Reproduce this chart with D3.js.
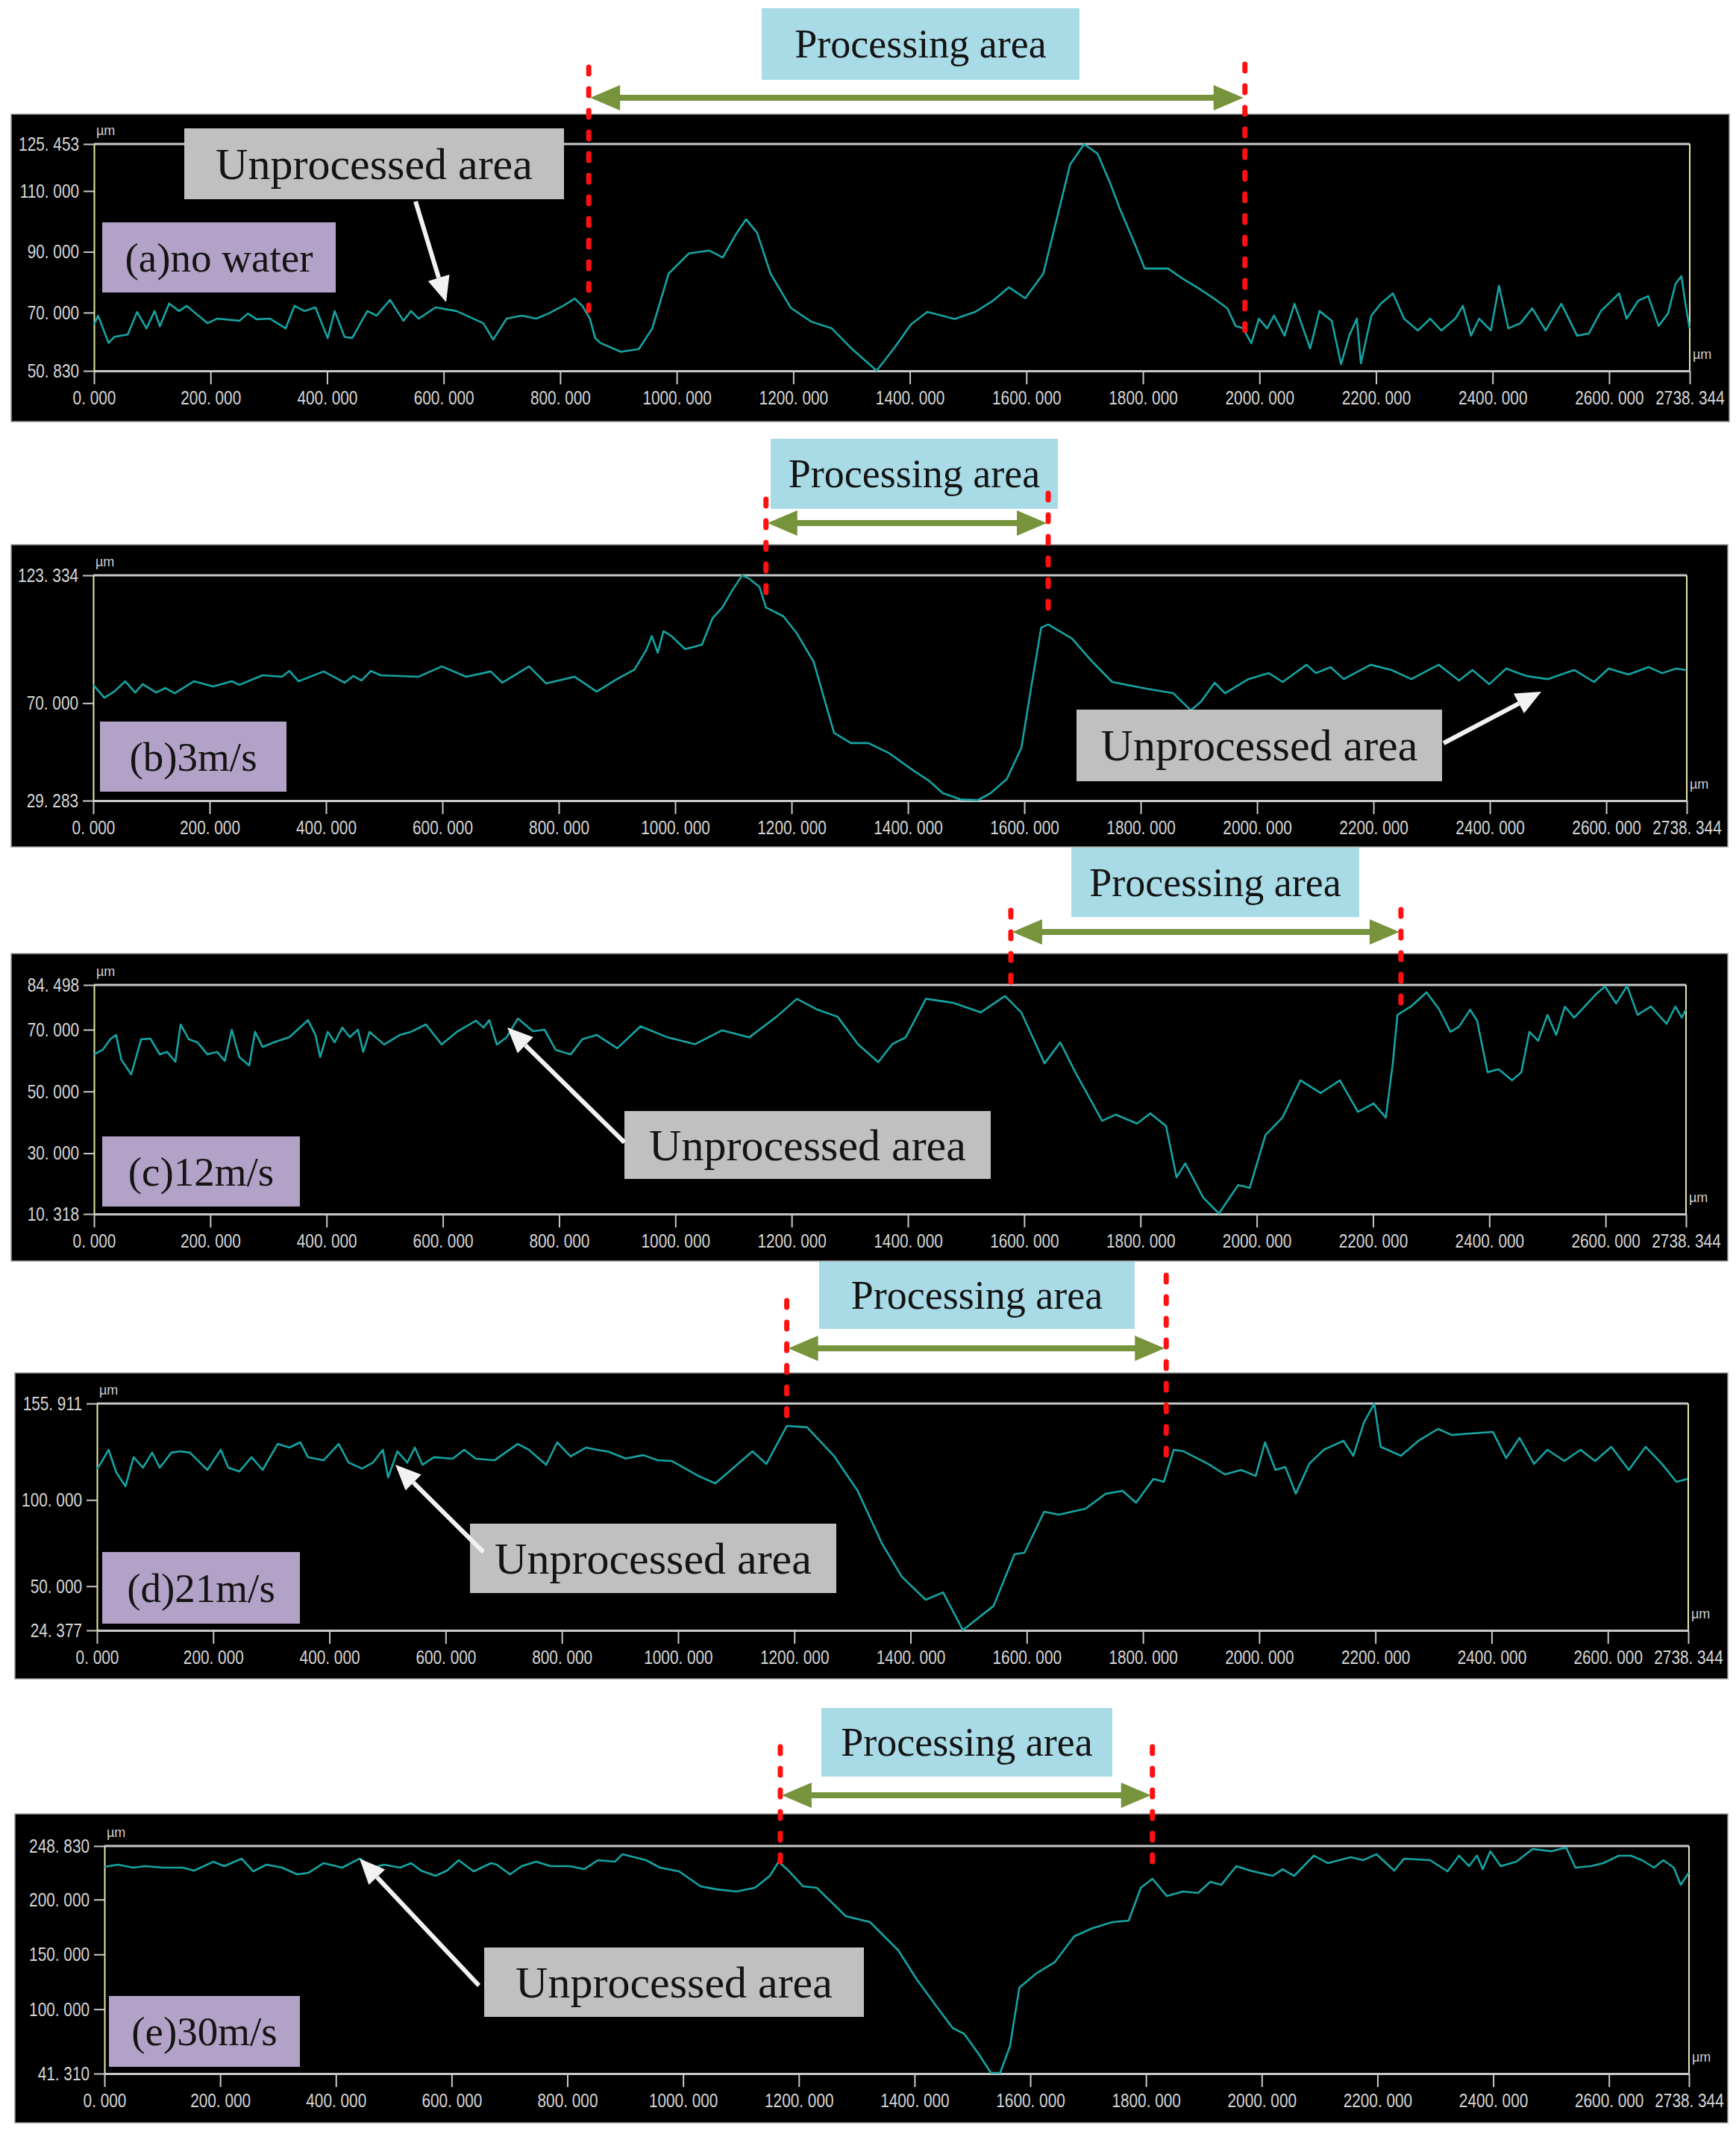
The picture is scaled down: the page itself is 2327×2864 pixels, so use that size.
<!DOCTYPE html>
<html>
<head>
<meta charset="utf-8">
<script src="https://cdn.jsdelivr.net/npm/d3@7"></script>
<style>
  body { margin: 0; background: #fff; }
  svg { display: block; }
  .tick text { font-family: "Liberation Sans", Arial, sans-serif; }
  .serif { font-family: "Liberation Serif", "Times New Roman", serif; }
</style>
</head>
<body>
<div id="container"></div>
<script>
// ---- data (distance µm, height µm) ----
const xTicks = [0, 200, 400, 600, 800, 1000, 1200, 1400, 1600, 1800, 2000, 2200, 2400, 2600, 2738.344]

const aTicks = [50.830, 70, 90, 110, 125.453]
const bTicks = [29.283, 70, 123.334]
const cTicks = [10.318, 30, 50, 70, 84.498]
const dTicks = [24.377, 50, 100, 155.911]
const eTicks = [41.310, 100, 150, 200, 248.830]

const panelLabels = ["(a)no water", "(b)3m/s", "(c)12m/s", "(d)21m/s", "(e)30m/s"]

// left / right edge of the processing area for each panel (µm)
const procBounds = [[849, 1975], [1156, 1641], [1577, 2248], [1187, 1840], [1168, 1811]]

const profileA = [[0,66],[7,69],[25,60],[35,62],[58,62.8],[74,70.2],[90,64.8],[104,70.5],[113,65.5],[129,73],[146,70.5],[159,72.2],[195,66.5],[211,68],[250,67.3],[264,69.7],[279,67.8],[302,68],[329,64.8],[344,72.2],[361,70.5],[380,71.7],[401,61.6],[413,70.5],[430,62],[443,61.6],[469,70.5],[485,69],[508,74.2],[531,67.3],[544,70.5],[557,68],[586,71.7],[622,70.5],[668,66.5],[685,61.1],[708,68],[734,69],[759,68],[780,69.7],[805,72.2],[825,74.6],[838,72.2],[851,68],[860,61.6],[869,60],[904,57.1],[935,58],[958,64.8],[986,82.8],[1021,89.5],[1056,90.4],[1079,88.1],[1103,96.2],[1119,100.7],[1138,96.2],[1161,82.8],[1196,71.5],[1231,67],[1266,64.8],[1301,58],[1343,50.9],[1372,58],[1402,66.1],[1430,70.2],[1477,67.9],[1512,70.2],[1542,73.8],[1570,78.3],[1598,74.7],[1629,82.8],[1652,100.7],[1675,118.7],[1699,125.4],[1722,122.3],[1745,112],[1759,104.8],[1786,92.6],[1803,84.5],[1843,84.5],[1867,81.3],[1897,77.8],[1922,74.6],[1945,71.4],[1959,65.6],[1972,64.8],[1986,59.9],[1999,68],[2013,64.8],[2025,69],[2043,62.4],[2060,72.9],[2087,58.2],[2103,70.5],[2124,67.3],[2140,53],[2154,62.4],[2167,68],[2174,53.3],[2192,69],[2208,72.9],[2229,76.3],[2248,68],[2272,64.1],[2293,68],[2312,64.1],[2336,68],[2349,72.2],[2363,62.4],[2377,68],[2397,64.1],[2411,78.8],[2427,64.8],[2448,66.5],[2468,71.4],[2491,64.1],[2518,72.9],[2545,62.4],[2565,63.1],[2586,70.5],[2617,76.3],[2630,68],[2650,73.9],[2667,75.4],[2685,65.6],[2701,69.7],[2714,79.5],[2724,82],[2731,72.9],[2738,64.8]]

const profileB = [[0,77.6],[19,72.2],[36,74.8],[55,79.1],[72,74.4],[85,77.9],[108,74.4],[124,76.3],[140,74.1],[173,79.1],[206,76.9],[238,79.1],[251,77.6],[291,81.6],[324,81],[337,83.4],[353,79.1],[396,83.2],[432,78.5],[447,81.3],[461,79.4],[477,83.4],[494,81.6],[559,81],[599,85.3],[641,81],[683,83.2],[703,78.5],[749,85.3],[778,78.2],[827,81],[865,74.8],[900,80],[930,84],[950,92],[960,98],[970,91],[980,100],[993,98.1],[1017,92.5],[1046,94.4],[1064,105.3],[1081,109.9],[1098,117],[1115,123.3],[1128,121.8],[1145,118.4],[1156,109.9],[1186,106.2],[1209,99.1],[1238,87.2],[1273,57.6],[1302,53.3],[1332,53.3],[1367,49.2],[1408,42.1],[1437,37.4],[1460,32.4],[1490,29.8],[1520,29.5],[1542,32.4],[1570,38.3],[1595,51.4],[1611,75.4],[1629,101.5],[1641,102.8],[1682,96.9],[1717,87.2],[1751,78.8],[1810,76],[1856,74.1],[1886,67],[1904,70.7],[1927,78.5],[1945,74.1],[1985,80],[2020,82.5],[2044,78.8],[2085,86],[2101,82.5],[2126,85],[2149,80],[2195,86],[2231,83.8],[2265,80],[2312,86],[2347,79.4],[2370,83.8],[2399,77.9],[2428,84.4],[2463,81.3],[2499,80],[2545,83.8],[2579,78.8],[2604,84.4],[2638,81.9],[2673,85],[2696,82.5],[2720,84.4],[2738,83.8]]

const profileC = [[0,62],[15,63.5],[28,66.9],[38,68.3],[47,60.3],[64,55.5],[81,66.9],[97,67.1],[113,62],[126,62.8],[140,59.6],[149,71.7],[163,66.9],[178,65.9],[195,62],[212,62.8],[225,59.9],[237,70],[250,61.1],[267,58.4],[277,69.3],[290,64.4],[309,65.9],[336,67.6],[368,73.1],[381,68.3],[389,61.1],[402,69.3],[414,65.9],[427,70.7],[440,67.6],[454,70],[463,62.8],[474,69.3],[499,65.2],[526,68.3],[545,69.3],[571,71.7],[598,65.2],[624,69.3],[657,72.9],[670,70.7],[680,73.1],[693,65.2],[710,67.6],[729,73.6],[755,69.5],[775,70],[794,63.5],[820,62],[840,66.9],[865,68.3],[900,64],[940,71.1],[987,67.5],[1034,65.3],[1080,69.8],[1127,67.5],[1174,74.2],[1209,80],[1244,76.5],[1279,74.2],[1314,65.3],[1349,59.5],[1373,65.3],[1396,67.5],[1431,80],[1478,78.7],[1525,75.6],[1567,80.9],[1595,75.6],[1635,59.1],[1662,65.9],[1688,56.2],[1734,40.5],[1757,42.5],[1794,39.6],[1817,42.9],[1844,38.8],[1862,22.2],[1877,26.7],[1908,15.6],[1935,10.5],[1968,19.7],[1988,18.8],[2015,35.9],[2044,41.5],[2075,53.6],[2110,49.5],[2143,53.6],[2174,43.4],[2201,46.1],[2222,41.5],[2234,59.1],[2242,74.8],[2265,77.5],[2292,82.1],[2314,76.5],[2333,69.3],[2348,71],[2367,76.5],[2379,72.9],[2397,56.2],[2416,57.2],[2439,53.6],[2455,56.2],[2469,69.3],[2484,66.4],[2500,74.8],[2515,68.3],[2530,77.5],[2546,73.9],[2564,77.5],[2583,81.4],[2599,84],[2618,78.5],[2637,84.2],[2655,74.8],[2678,77.5],[2705,71.9],[2720,77.5],[2731,73.9],[2738,76.5]]

const profileD = [[0,118],[5,120.4],[20,129.1],[33,116.1],[49,107.9],[63,124.8],[79,118.7],[95,127.4],[108,118.7],[128,127.4],[144,128.2],[160,127.4],[190,117.4],[213,129.1],[226,118.7],[245,116.5],[266,124.8],[285,117.4],[311,132.5],[331,130.4],[350,133.4],[363,124.8],[390,123],[416,132.5],[433,121.7],[456,118.2],[475,121.7],[492,129.1],[501,113.1],[517,128.2],[534,121.7],[547,130.4],[560,120.4],[580,124.8],[612,123.9],[632,129.1],[652,123.9],[684,123],[724,132.5],[743,129.1],[773,120.4],[792,133.4],[815,125.2],[842,130.4],[860,129.1],[880,128],[910,124],[940,126],[965,123],[989,122.6],[1035,113.9],[1064,109.6],[1094,118.3],[1128,128.2],[1152,120.9],[1187,142.9],[1222,142.1],[1268,125.6],[1309,105.3],[1351,74.6],[1385,55.5],[1426,42.1],[1456,46.4],[1490,24.5],[1543,38.6],[1579,68.5],[1596,69.4],[1630,93.2],[1655,91.4],[1701,94.9],[1736,103.6],[1765,105.3],[1788,98.4],[1818,112.2],[1836,110.5],[1853,129.1],[1870,128.2],[1912,120.9],[1941,114.8],[1969,117.4],[1994,113.9],[2010,133.4],[2028,117.4],[2045,119.1],[2063,103.6],[2086,120.9],[2111,129.1],[2145,134.3],[2162,125.6],[2180,144.7],[2198,155.9],[2209,130.8],[2244,125.6],[2274,134.3],[2308,141.2],[2331,137.7],[2367,138.6],[2402,139.5],[2425,124.3],[2448,136],[2473,120.9],[2496,129.1],[2525,122.6],[2553,129.1],[2578,122.6],[2606,130.8],[2636,117.4],[2665,130.8],[2693,120.9],[2718,110.5],[2737,112.2]]

const profileE = [[0,229.8],[23,231.8],[50,229.1],[70,230.5],[102,229.1],[135,229.1],[155,226.4],[188,234.5],[207,230.5],[237,237.3],[257,225.7],[280,231.8],[307,229.1],[333,223],[352,224.3],[379,233.2],[411,229.1],[441,237.3],[464,229.1],[483,231.8],[511,229.1],[530,233.2],[547,226.4],[572,221.6],[592,226.4],[612,235.9],[638,225.7],[668,233.2],[678,231.8],[701,223],[721,230.5],[746,234.5],[771,230.5],[804,230.5],[829,227.7],[853,235.9],[882,234.5],[895,241.3],[936,235.9],[960,229.1],[993,225.7],[1030,212.1],[1058,209.3],[1092,207.3],[1124,210.7],[1150,221.6],[1165,234.5],[1182,226.4],[1207,212.1],[1231,210.7],[1281,184.9],[1323,179.4],[1372,153.6],[1404,127],[1437,103.2],[1466,82.8],[1486,77.4],[1511,59],[1532,42],[1548,42],[1565,66.5],[1581,119.5],[1610,132.5],[1642,142.7],[1676,166.5],[1708,174],[1742,179.4],[1770,180.8],[1791,210.7],[1811,218.9],[1836,203.2],[1864,207.3],[1890,206],[1911,216.2],[1930,213.4],[1956,230.5],[1980,226.4],[2019,221.6],[2036,227.7],[2056,221.6],[2090,240],[2114,233.2],[2154,238.6],[2175,235.9],[2198,241.3],[2229,226.4],[2246,237.3],[2291,235.9],[2321,225.7],[2341,240],[2358,230.5],[2372,240],[2382,227.7],[2395,244],[2413,230.5],[2440,234.5],[2468,246.1],[2501,244],[2526,247.5],[2542,229.1],[2569,230.5],[2590,233.2],[2617,240],[2638,240],[2657,235.9],[2678,229.1],[2694,235.9],[2712,229.1],[2724,213.4],[2738,224.3]]

const profiles = [profileA, profileB, profileC, profileD, profileE]
const yTicksAll = [aTicks, bTicks, cTicks, dTicks, eTicks]

// ---- page layout (pixels) ----
// panel = black box, plot = axis frame, label/unproc/proc = annotation boxes [x0,y0,x1,y1]
const layout = [
  { panel: [15, 153, 2318, 565], plot: [126, 193, 2265, 497], label: [137, 298, 450, 392],
    unproc: [247, 172, 756, 267], unArrow: [[557, 270], [598, 405]],
    proc: [1021, 11, 1447, 107], arrowY: 131, red: [[90, 416], [86, 444]] },
  { panel: [15, 730, 2316, 1135], plot: [125, 771, 2261, 1073], label: [134, 967, 384, 1061],
    unproc: [1443, 951, 1933, 1047], unArrow: [[1935, 996], [2066, 927]],
    proc: [1033, 588, 1418, 682], arrowY: 701, red: [[669, 812], [661, 835]] },
  { panel: [15, 1278, 2316, 1690], plot: [126, 1320, 2260, 1627], label: [137, 1523, 402, 1617],
    unproc: [837, 1489, 1328, 1580], unArrow: [[837, 1531], [680, 1377]],
    proc: [1436, 1136, 1822, 1229], arrowY: 1249, red: [[1220, 1333], [1219, 1355]] },
  { panel: [20, 1840, 2316, 2250], plot: [130, 1881, 2263, 2185], label: [137, 2080, 402, 2176],
    unproc: [630, 2042, 1121, 2135], unArrow: [[648, 2080], [530, 1963]],
    proc: [1098, 1691, 1521, 1781], arrowY: 1807, red: [[1743, 1911], [1709, 1958]] },
  { panel: [20, 2431, 2316, 2845], plot: [140, 2474, 2264, 2779], label: [146, 2675, 402, 2770],
    unproc: [649, 2610, 1158, 2703], unArrow: [[642, 2661], [482, 2491]],
    proc: [1101, 2289, 1491, 2381], arrowY: 2406, red: [[2341, 2497], [2341, 2510]] }
]

const W = 2327, H = 2864
const svg = d3.create("svg").attr("width", W).attr("height", H)
document.getElementById("container").append(svg.node())
svg.append("rect").attr("width", W).attr("height", H).attr("fill", "#fff")

const fmt = v => d3.format(".3f")(v).replace(".", ". ")
const axisGray = "#c8c8c8"
const axisYellow = "#e9e7a8"
const teal = "#16a3a3"
const squeeze = 0.8 // tick labels in the reference use a narrow face

// white arrow with a filled head, from tail to tip
const whiteArrow = (g, [x1, y1], [x2, y2]) => {
  const ang = Math.atan2(y2 - y1, x2 - x1)
  const hl = 34, hw = 15
  const bx = x2 - hl * Math.cos(ang), by = y2 - hl * Math.sin(ang)
  g.append("line").attr("x1", x1).attr("y1", y1).attr("x2", bx).attr("y2", by)
    .attr("stroke", "#f2f2f2").attr("stroke-width", 6)
  g.append("path")
    .attr("d", `M${x2},${y2}L${bx + hw * Math.sin(ang)},${by - hw * Math.cos(ang)}L${bx - hw * Math.sin(ang)},${by + hw * Math.cos(ang)}Z`)
    .attr("fill", "#f2f2f2")
}

const box = (g, [x0, y0, x1, y1], fill, text, size) => {
  g.append("rect").attr("x", x0).attr("y", y0).attr("width", x1 - x0).attr("height", y1 - y0).attr("fill", fill)
  g.append("text").attr("class", "serif")
    .attr("x", (x0 + x1) / 2).attr("y", (y0 + y1) / 2)
    .attr("text-anchor", "middle").attr("dominant-baseline", "central")
    .attr("font-size", size).attr("fill", "#141414")
    .text(text)
}

layout.forEach((L, i) => {
  const g = svg.append("g")
  const [pl, pt, pr, pb] = L.plot
  const x = d3.scaleLinear().domain([0, 2738.344]).range([pl, pr])
  const yT = yTicksAll[i]
  const y = d3.scaleLinear().domain([yT[0], yT[yT.length - 1]]).range([pb, pt])

  // black background
  g.append("rect").attr("x", L.panel[0]).attr("y", L.panel[1])
    .attr("width", L.panel[2] - L.panel[0]).attr("height", L.panel[3] - L.panel[1])
    .attr("fill", "#000").attr("stroke", "#9a9a9a").attr("stroke-width", 1.5)

  // frame: top gray, right yellow
  g.append("line").attr("x1", pl).attr("x2", pr).attr("y1", pt).attr("y2", pt)
    .attr("stroke", axisGray).attr("stroke-width", 3)
  g.append("line").attr("x1", pr).attr("x2", pr).attr("y1", pt).attr("y2", pb)
    .attr("stroke", axisYellow).attr("stroke-width", 2)

  // x axis
  const xa = g.append("g").attr("transform", `translate(0,${pb})`)
    .call(d3.axisBottom(x).tickValues(xTicks).tickFormat(fmt).tickSize(18).tickSizeOuter(0).tickPadding(9))
  xa.select(".domain").attr("stroke", axisGray).attr("stroke-width", 3)
  xa.selectAll(".tick line").attr("stroke", axisGray).attr("stroke-width", 2)
  xa.selectAll(".tick text").attr("fill", "#d6d6d6").attr("font-size", 26)
    .attr("transform", `scale(${squeeze},1)`)

  // y axis
  const ya = g.append("g").attr("transform", `translate(${pl},0)`)
    .call(d3.axisLeft(y).tickValues(yT).tickFormat(fmt).tickSize(14).tickSizeOuter(0).tickPadding(6))
  ya.select(".domain").attr("stroke", axisYellow).attr("stroke-width", 2)
  ya.selectAll(".tick line").attr("stroke", axisGray).attr("stroke-width", 2)
  ya.selectAll(".tick text").attr("fill", "#d6d6d6").attr("font-size", 26)
    .attr("x", -20 / squeeze).attr("transform", `scale(${squeeze},1)`)

  // unit labels
  g.append("text").attr("x", pl + 3).attr("y", pt - 12).attr("fill", "#cfcfcf")
    .attr("font-size", 18).attr("font-family", "Liberation Sans, sans-serif").text("µm")
  g.append("text").attr("x", pr + 4).attr("y", pb - 16).attr("fill", "#cfcfcf")
    .attr("font-size", 18).attr("font-family", "Liberation Sans, sans-serif").text("µm")

  // profile
  g.append("path").datum(profiles[i])
    .attr("d", d3.line().x(d => x(d[0])).y(d => y(d[1])))
    .attr("fill", "none").attr("stroke", teal).attr("stroke-width", 2.6)
    .attr("stroke-linejoin", "round")

  // annotation boxes
  box(g, L.label, "#b3a2c7", panelLabels[i], 55)
  box(g, L.unproc, "#c0c0c0", "Unprocessed area", 60)
  whiteArrow(g, L.unArrow[0], L.unArrow[1])
  box(g, L.proc, "#a9dbe7", "Processing area", 54)

  // processing area: red dashed bounds and green double arrow
  const [b0, b1] = procBounds[i].map(x)
  ;[b0, b1].forEach((bx, k) => {
    g.append("line").attr("x1", bx).attr("x2", bx).attr("y1", L.red[k][0]).attr("y2", L.red[k][1])
      .attr("stroke", "#ff1010").attr("stroke-width", 7)
      .attr("stroke-dasharray", "9 20").attr("stroke-linecap", "round")
  })
  const ay = L.arrowY, hl = 42, hh = 17
  g.append("line").attr("x1", b0 + hl - 2).attr("x2", b1 - hl + 2).attr("y1", ay).attr("y2", ay)
    .attr("stroke", "#77933c").attr("stroke-width", 8)
  g.append("path").attr("d", `M${b0 + 2},${ay}L${b0 + hl},${ay - hh}L${b0 + hl},${ay + hh}Z`).attr("fill", "#77933c")
  g.append("path").attr("d", `M${b1 - 2},${ay}L${b1 - hl},${ay - hh}L${b1 - hl},${ay + hh}Z`).attr("fill", "#77933c")
})
</script>
</body>
</html>
